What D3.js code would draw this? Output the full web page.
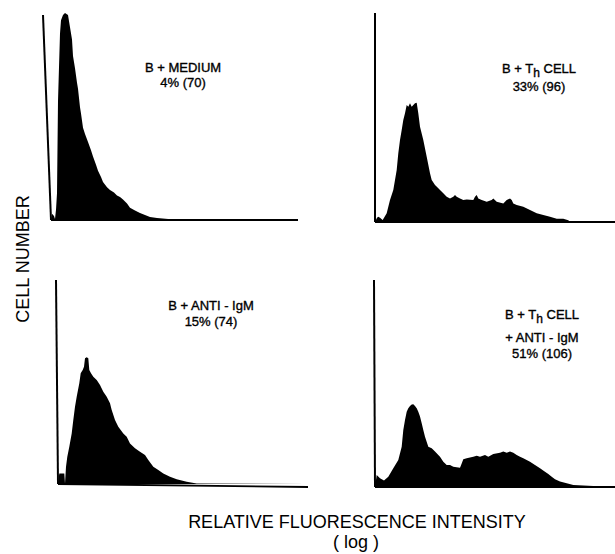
<!DOCTYPE html>
<html><head><meta charset="utf-8">
<script src="https://cdn.jsdelivr.net/npm/d3@7"></script>
<style>html,body{margin:0;padding:0;background:#fff;} svg{display:block;}</style>
</head><body><svg id="chart" width="615" height="554"></svg>
<script>
// ---------- data ----------
const panelNames = ["B + MEDIUM", "B + T_h CELL", "B + ANTI - IgM", "B + T_h CELL + ANTI - IgM"];
const panelLabelLines = [
  ["B + MEDIUM", "4% (70)"],
  ["B + T_h CELL", "33% (96)"],
  ["B + ANTI - IgM", "15% (74)"],
  ["B + T_h CELL", "+ ANTI - IgM", "51% (106)"]
];
// [channel (log fluorescence), relative cell number 0-100]
const seriesMedium = [[0,0],[1,3],[3,2],[4,0.5],[5,5],[6,13],[7,58],[9,91],[10,97.5],[12,100],[14,101],[17,100],[19,94],[21,88],[22,80],[24,74],[26,67],[27,64],[29,55],[30,52],[32,45],[34,42],[37,38],[40,34],[42,31],[45,27],[47,24],[50,21],[52,18.5],[56,16],[59,14.6],[63,13.4],[66,12],[69,11.2],[72,10],[76,8],[79,6],[84,4.6],[89,3.4],[94,2.4],[99,1.5],[106,1],[120,0.4],[160,0.2],[247,0]];
const seriesThCell = [[0,0],[2,2],[3.3,2.5],[5,2],[7.7,1],[11.7,4.2],[15,10.5],[18.3,15.3],[21.7,24.9],[23.3,32.9],[25,39.2],[26.7,44],[28.3,48.8],[30,52],[31.7,56],[33.3,55.2],[35,56.8],[36.7,55.2],[38.3,56],[40,56.8],[41.7,57],[43.3,52],[45,45.6],[48.3,39.2],[51.7,31.2],[55,23.3],[56.7,20.1],[60,17.7],[63.3,16.1],[65,15.3],[68.3,13.7],[71.7,12.1],[75,11.3],[78.3,12.1],[80,12.9],[81.7,12.1],[85,11.3],[88.3,10.5],[91.7,10.8],[98.3,10.5],[100,12.1],[101.7,12.9],[103.3,11.3],[106.7,10.5],[111.7,9.7],[116.7,10.5],[118.3,11.3],[121.7,9.7],[128.3,8.9],[131.7,10.5],[135,11.3],[136.7,10.5],[138.3,8.9],[141.7,8.1],[148.3,7.3],[155,5.7],[161.7,4.2],[168.3,3.3],[175,2.5],[181.7,1.6],[188.3,1.6],[193.3,0.8],[195,0],[239,0]];
const seriesAntiIgM = [[0,0],[1.3,5.2],[6.3,5.2],[7,0.3],[8,8.5],[9.3,13.4],[11.3,18.3],[13.7,24.8],[15.3,31.4],[17,37.9],[18.7,42.8],[21.3,49.4],[22.7,54.3],[24.7,55.9],[26,57.5],[27,61.6],[28.7,62.1],[30.3,61.6],[31.3,55.9],[33,54.3],[35.3,52.6],[38.7,51],[42,48.5],[45.3,45.2],[48.7,42.8],[52,39.6],[53.7,36.3],[57,31.4],[60.3,28.1],[65.3,24.8],[68.7,23.2],[72,19.9],[77,17.5],[82,15.8],[87,14.2],[90.3,11.8],[95.3,8.5],[100.3,6.9],[105.3,5.2],[112,3.6],[118.7,2.3],[128.7,1.1],[138.7,0.3],[249,0]];
const seriesThAnti = [[0,0],[1.7,5.8],[5,4.2],[9,3.1],[13.3,5],[18.3,9],[23.3,13],[26.7,19.5],[28.3,27.5],[30,32.4],[31.7,36.4],[33.3,38],[35,39.1],[36.7,39.8],[38.3,40],[40,39.1],[41.7,38],[43.3,36.4],[45,34],[46.7,30.8],[48.3,27.5],[50,24.3],[53.3,19.5],[56.7,18.7],[60,17.1],[63.3,15.5],[65,14.6],[68.3,12.2],[71.7,10.6],[75,10.6],[78.3,9.8],[85,9.3],[86.7,11.4],[88.3,13.4],[91.7,13.9],[95,14.2],[98.3,14.6],[101.7,15.1],[105,14.6],[110,15.5],[113.3,14.6],[118.3,15.9],[125,16.6],[128.3,17.1],[131.7,16.6],[135,17.1],[138.3,16.6],[141.7,15.5],[145,14.6],[148.3,13.9],[155,12.2],[160,10.6],[165,9],[170,7.4],[173.3,6.3],[176.7,5],[180,3.7],[185,2.6],[191.7,1.8],[198.3,1],[218.3,0.5],[239,0.5],[239,0]];
const allSeries = [seriesMedium, seriesThCell, seriesAntiIgM, seriesThAnti];
const xTitle = "RELATIVE FLUORESCENCE INTENSITY";
const xSubTitle = "( log )";
const yTitle = "CELL NUMBER";

// ---------- layout ----------
const layout = [
  {x0:51, xTop:43, base:220, baseEnd:220, top:15, len:247, lx:183, ly:[72,87]},
  {x0:375, xTop:375, base:222, baseEnd:222, top:13, len:240, lx:539, ly:[73,91]},
  {x0:58, xTop:56, base:484, baseEnd:487, top:280, len:250, lx:211, ly:[310,326]},
  {x0:375, xTop:374, base:487, baseEnd:487, top:280, len:240, lx:542, ly:[319,342,358]}
];
const FONT = "'Liberation Sans', Arial, Helvetica, sans-serif";
const svg = d3.select("#chart");
svg.append("rect").attr("width",615).attr("height",554).attr("fill","#fff");

layout.forEach((L, i) => {
  const x = d3.scaleLinear().domain([0, L.len]).range([L.x0, L.x0 + L.len]);
  const y = d3.scaleLinear().domain([0, 100]).range([L.base, L.top]);
  const g = svg.append("g").attr("class", "panel").attr("data-name", panelNames[i]);
  // histogram
  const area = d3.area().x(d => x(d[0])).y0(y(0)).y1(d => y(d[1])).curve(d3.curveLinear);
  g.append("path").datum(allSeries[i]).attr("d", area).attr("fill", "#000");
  // y axis (cell number)
  g.append("line").attr("x1", L.xTop).attr("y1", y(100)).attr("x2", x(0)).attr("y2", y(0))
    .attr("stroke", "#000").attr("stroke-width", 2);
  // x axis baseline
  g.append("line").attr("x1", x(0)).attr("y1", y(0)).attr("x2", x(L.len)).attr("y2", L.baseEnd)
    .attr("stroke", "#000").attr("stroke-width", 1.8);
  // labels
  panelLabelLines[i].forEach((line, j) => {
    const t = g.append("text").attr("x", L.lx).attr("y", L.ly[j]).attr("text-anchor", "middle")
      .attr("font-family", FONT).attr("font-size", 13).attr("fill", "#000")
      .attr("stroke", "#000").attr("stroke-width", 0.35);
    const parts = line.split("_");
    if (parts.length === 1) { t.text(line); }
    else {
      t.append("tspan").text(parts[0]);
      t.append("tspan").attr("dy", 3.5).attr("font-size", 12).text(parts[1].charAt(0));
      t.append("tspan").attr("dy", -3.5).text(parts[1].slice(1));
    }
  });
});

svg.append("text").attr("x", 357).attr("y", 528).attr("text-anchor", "middle")
  .attr("font-family", FONT).attr("font-size", 18).attr("fill", "#000").text(xTitle);
svg.append("text").attr("x", 356).attr("y", 548).attr("text-anchor", "middle")
  .attr("font-family", FONT).attr("font-size", 18).attr("fill", "#000").text(xSubTitle);
svg.append("text").attr("transform", "translate(29,259) rotate(-90)").attr("text-anchor", "middle")
  .attr("font-family", FONT).attr("font-size", 18).attr("fill", "#000").text(yTitle);
</script></body></html>
